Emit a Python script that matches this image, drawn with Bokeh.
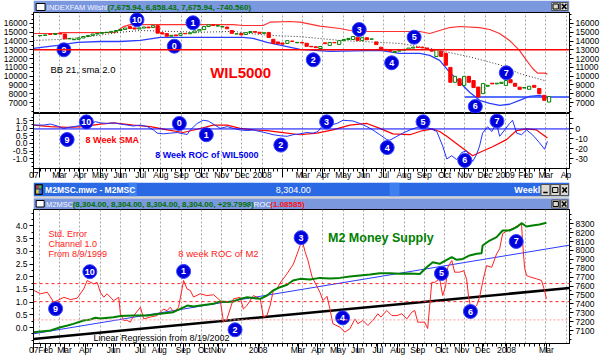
import pandas as pd
from bokeh.plotting import figure
from bokeh.models import Range1d, LinearAxis, FixedTicker, Grid, ColumnDataSource, Span, NumeralTickFormatter
from bokeh.layouts import column
from bokeh.embed import file_html
from bokeh.resources import INLINE
from bokeh.core.properties import value

FONT = "Liberation Sans"

# ---------------- data (x = months since Jan 2007) ----------------
week_first = "2007-02-02"
wk_open = [14600, 14640, 14800, 14750, 14860, 14800, 14250, 14150, 14200, 14350,
           14520, 14640, 14800, 14880, 14970, 15000, 15100, 15200, 15320, 15650,
           15500, 15370, 15480, 15600, 15550, 15750, 14950, 14850, 14550, 14700,
           14650, 14870, 14830, 14950, 15150, 15300, 15650, 15850, 15700, 15600,
           15600, 15200, 14800, 14850, 14750, 14960, 15080, 15000, 14880, 14980,
           14200, 13900, 13780, 13730, 14000, 13800, 13850, 13750, 13400, 13350,
           13150, 13800, 13500, 13840, 13620, 14050, 14180, 14180, 14440, 14070,
           14380, 14200, 13900, 13300, 13050, 12950, 12700, 12850, 12950, 13050,
           13200, 13300, 13300, 13200, 13050, 12250, 12850, 12600, 11000, 9300,
           9700, 8950, 9980, 9500, 8760, 8010, 8850, 9200, 9120, 9180,
           8950, 9600, 9180, 8750, 8650, 8500, 8950, 8600, 7820, 7050]
wk_close = [14640, 14700, 14750, 14860, 14800, 14250, 14300, 14200, 14350, 14520,
            14640, 14800, 14880, 14970, 15000, 15100, 15200, 15320, 15490, 15430,
            15370, 15500, 15600, 15500, 15750, 14900, 14800, 14550, 14650, 14600,
            14870, 14830, 14950, 15150, 15300, 15650, 15850, 15780, 15760, 15650,
            15400, 14880, 14830, 14700, 14960, 15080, 15000, 14880, 14950, 14400,
            13730, 13700, 13650, 14050, 13960, 13850, 13780, 13400, 13350, 13250,
            13380, 13700, 13840, 13800, 14050, 14180, 14300, 14520, 14070, 14380,
            14150, 14250, 13600, 13000, 12950, 12850, 12800, 12950, 13050, 13200,
            13300, 13280, 13220, 13120, 12850, 13000, 12250, 11250, 9300, 9980,
            8950, 9980, 9300, 8700, 7630, 9150, 8960, 9120, 9200, 9300,
            9500, 9250, 8850, 8500, 8700, 8850, 8730, 8000, 7250, 7676]

bb_up_m = [0.71, 1.90, 2.04, 4.75, 5.15, 5.49, 10.57, 11.06, 12.04, 12.39, 13.37, 13.87, 14.85,
           15.84, 16.33, 16.82, 19.78, 20.27, 20.76, 21.26, 21.75, 22.73, 23.23, 23.72, 24.21,
           24.70, 25.05, 25.34, 25.59, 25.94, 26.08]
bb_up_v = [14860, 14860, 14950, 14980, 15650, 15880, 15880, 15770, 15770, 16150, 16230, 16150, 15700,
           15430, 15200, 15090, 15090, 14860, 15200, 15540, 15660, 15540, 15320, 14860, 14070,
           12930, 11800, 10900, 10340, 10340, 10230]
bb_mid_m = [0.71, 2.04, 3.52, 5.0, 5.99, 7.46, 8.94, 10.57, 11.4, 12.39, 13.87, 15.84, 17.32,
            18.79, 20.27, 22.24, 23.72, 24.7, 25.94]
bb_mid_v = [14070, 14180, 14520, 15000, 15200, 15100, 15000, 15100, 14860, 14640, 14500, 14070, 13900,
            13730, 13160, 12200, 11300, 10300, 9500]
bb_low_m = [0.71, 1.90, 2.88, 4.01, 5.0, 5.99, 6.97, 11.06, 11.55, 12.24, 13.87, 15.34, 17.81,
            18.79, 19.78, 20.27, 20.76, 21.26, 21.75, 22.24, 22.73, 23.23, 23.72, 24.21, 24.70,
            25.20, 25.69, 26.03]
bb_low_v = [13160, 13500, 13840, 13950, 13950, 14070, 14410, 14410, 14300, 13840, 13050, 12820, 12930,
            12590, 12590, 12360, 11800, 10430, 9300, 8160, 7250, 6910, 6680, 6800, 7250,
            7700, 7820, 7590]
support_level = 13000
low_support_m = [22.0, 27.17]
low_support_v = [7625, 7625]

roc_m = [0.71, 1.21, 1.55, 1.90, 2.19, 2.68, 3.18, 3.52, 3.77, 4.01, 4.36, 4.66, 5.0, 5.34, 5.64,
         5.99, 6.33, 6.63, 6.82, 7.12, 7.46, 7.81, 8.1, 8.3, 8.45, 8.79, 9.09, 9.33, 9.58, 9.93,
         10.27, 10.57, 10.91, 11.26, 11.55, 11.9, 12.24, 12.54, 12.88, 13.23, 13.52, 13.87, 14.21,
         14.51, 14.75, 15.0, 15.34, 15.69, 15.99, 16.48, 16.82, 17.17, 17.46, 17.81, 18.15, 18.3,
         18.65, 18.94, 19.29, 19.63, 19.93, 20.27, 20.62, 20.91, 21.11, 21.36, 21.6, 21.85, 22.09,
         22.24, 22.39, 22.59, 22.73, 22.88, 23.13, 23.33, 23.57, 23.72, 23.97, 24.21, 24.36, 24.56,
         24.8, 25.05, 25.34, 25.69, 25.94, 26.08]
roc_v = [3.9, 3.9, 4.9, 2.9, 0.6, 2.3, 3.9, 5.5, 7.3, 6.1, 5.5, 6.1, 4.9, 3.9, 2.9,
         3.9, 2.3, -1.0, -4.2, -4.9, -4.2, -3.6, -4.9, -5.5, -1.0, 5.5, 8.7, 8.0, 4.9, 0.6,
         2.3, 0.6, -1.0, -1.6, -1.0, -2.6, -4.2, -5.8, -6.8, -7.4, -5.8, -4.9, -3.6,
         -4.2, -2.6, 3.9, 3.9, 5.5, 8.7, 8.0, 5.5, 2.3, -1.0, -5.8, -10.7, -11.3,
         -7.4, -4.2, -1.0, 1.5, 2.3, 0.6, -2.6, -17.2, -30.1, -26.9, -30.8, -23.6, -22.0,
         -26.9, -32.7, -25.2, -17.2, -4.2, 2.3, -2.6, 5.5, -7.4, -1.0, 5.5, 8.7, -4.2,
         -5.8, -1.0, -5.8, -13.9, -20.4, -12.4]
sma_m = [0.71, 1.55, 2.39, 3.18, 4.01, 4.66, 5.64, 6.48, 7.32, 8.1, 8.79, 9.58, 10.27, 10.91,
         11.55, 12.24, 13.03, 13.87, 14.7, 15.49, 16.33, 17.17, 17.81, 18.45, 19.29, 19.93,
         20.42, 20.76, 21.11, 21.75, 22.39, 22.73, 23.37, 24.06, 24.56, 25.05, 25.54, 26.08]
sma_v = [3.9, 2.3, 1.6, 2.3, 4.9, 6.1, 3.9, 2.3, -1.0, -3.6, -0.3, 3.9, 3.9, 0.6,
         -1.0, -1.6, -3.6, -5.8, -4.2, -1.0, 3.9, 5.5, 0.6, -4.9, -5.8, -1.6,
         0.0, -2.6, -7.4, -17.2, -26.9, -23.6, -17.8, -10.7, -1.6, 0.0, -1.0, -9.0]

m2roc_m = [0.73, 1.06, 1.39, 1.71, 1.88, 2.21, 2.54, 2.87, 3.19, 3.36, 3.68, 3.85, 4.01, 4.18,
           4.34, 4.67, 4.92, 5.00, 5.16, 5.33, 5.49, 5.66, 5.99, 6.15, 6.48, 6.81, 7.13, 7.30,
           7.46, 7.63, 7.87, 8.12, 8.29, 8.45, 8.61, 8.94, 9.27, 9.60, 9.93, 10.09, 10.26, 10.58,
           10.91, 11.07, 11.24, 11.57, 11.90, 12.06, 12.23, 12.39, 12.55, 12.72, 12.88, 13.04,
           13.21, 13.54, 13.77, 13.97, 14.11, 14.26, 14.46, 14.85, 15.00, 15.20, 15.34, 15.49,
           15.84, 16.08, 16.33, 16.58, 16.72, 16.97, 17.22, 17.46, 17.71, 17.86, 18.15, 18.40,
           18.65, 18.89, 19.14, 19.38, 19.53, 19.68, 19.88, 20.02, 20.17, 20.37, 20.52, 20.76,
           20.91, 21.06, 21.16, 21.36, 21.50, 21.75, 21.95, 22.09, 22.19, 22.29, 22.39, 22.59,
           22.73, 22.88, 22.98, 23.08, 23.33, 23.57, 23.72, 23.87, 24.11, 24.36, 24.61, 24.80,
           24.85, 24.95, 25.05, 25.20, 25.54, 25.79, 25.94, 26.03]
m2roc_v = [1.46, 1.33, 1.39, 1.00, 1.06, 1.19, 1.10, 1.16, 1.52, 1.85, 1.72, 1.78, 1.39, 1.19,
           1.33, 1.06, 1.19, 0.54, 0.28, 0.28, 0.21, 0.47, 0.80, 0.34, 0.41, 0.47, 0.73, 0.66,
           0.80, 0.60, 0.80, 1.85, 1.52, 1.46, 1.20, 1.33, 1.26, 1.29, 1.06, 0.21, 0.34, 1.13,
           1.19, 0.73, 0.86, 1.26, 1.13, 0.41, 0.47, 0.86, 1.46, 1.52, 1.75, 1.92,
           2.10, 2.50, 3.00, 3.45, 3.00, 2.64, 2.00, 1.39, 1.06, 1.23, 0.74, 0.15,
           0.01, -0.18, -0.05, 0.34, 0.15, 0.28, 0.08, 0.28, 0.54, 0.41, 0.67, 0.47,
           0.47, 0.54, 0.34, 0.60, 0.67, 0.21, 0.21, 0.21, -0.04, 1.78, 1.78, 1.92,
           1.26, 1.65, 2.37, 2.64, 2.18, 2.18, 2.24, 1.90, 1.20, 0.80, 0.74, 0.87,
           1.19, 1.78, 2.13, 2.44, 2.37, 2.90, 3.10, 3.70, 3.82, 3.89, 4.02, 4.10,
           3.43, 2.37, 2.05, 2.00, 1.92, 1.85, 1.46, 1.13]
m2_m = [0.71, 1.55, 2.04, 2.39, 2.68, 3.18, 3.52, 3.77, 4.01, 4.66, 5.0, 5.64, 6.33, 6.97, 7.61,
        7.96, 8.30, 8.60, 8.94, 9.58, 9.93, 10.27, 10.57, 10.91, 11.26, 11.55, 11.90, 12.24,
        12.54, 12.88, 13.23, 13.52, 13.87, 14.36, 14.85, 15.34, 15.84, 16.33, 16.82, 17.32,
        17.81, 18.30, 18.79, 19.29, 19.78, 20.12, 20.42, 20.76, 21.11, 21.36, 21.60, 21.90,
        22.24, 22.59, 22.83, 22.88, 23.23, 23.57, 23.87, 24.21, 24.56, 24.80, 25.05, 25.34,
        25.69, 26.03]
m2_v = [7081, 7100, 7137, 7156, 7175, 7212, 7224, 7243, 7235, 7250, 7262, 7269, 7270, 7288, 7306,
        7344, 7381, 7370, 7381, 7400, 7426, 7420, 7426, 7456, 7475, 7465, 7456, 7494,
        7550, 7587, 7614, 7662, 7681, 7675, 7692, 7686, 7692, 7707, 7719, 7730,
        7745, 7745, 7738, 7740, 7735, 7812, 7868, 7850, 7895, 7925, 7895, 7905,
        7944, 7963, 7970, 8056, 8112, 8150, 8225, 8225, 8262, 8307, 8270, 8281,
        8292, 8311]
m2_reg_m = [0.71, 27.17]
m2_reg_v = [7063, 8060]
lr_2002_m = [0.71, 27.17]
lr_2002_v = [7004, 7578]
channel_levels = [1.73, 1.02, 0.30]

top_marks_m = [5.82, 8.58, 2.21, 7.66, 14.52, 16.79, 18.39, 19.5, 22.52, 24.05]
top_marks_v = [16420, 16080, 13004, 13414, 11865, 15316, 11523, 14439, 6545, 10384]
roc_marks_m = [3.32, 7.91, 2.37, 9.24, 12.92, 15.18, 18.17, 19.94, 22.0, 23.59]
roc_marks_v = [7.1, 5.5, -10.6, -5.8, -16.2, 7.1, -18.7, 7.1, -31.6, 8.0]
mark_labels = ["10", "1", "9", "0", "2", "3", "4", "5", "6", "7"]
roc_mark_labels = ["10", "0", "9", "1", "2", "3", "4", "5", "6", "7"]
bot_marks_m = [3.49, 8.12, 13.92, 1.8, 10.66, 15.97, 20.85, 22.28, 24.54]
bot_marks_v = [2.2, 2.21, 3.54, 0.74, -0.09, 0.38, 2.13, 0.63, 3.39]
bot_mark_labels = ["10", "1", "3", "9", "2", "4", "5", "6", "7"]

month_grid = list(range(1, 28))
top_tick_m = [0.72] + list(range(1, 28))
top_tick_lbl = ["07", "", "Mar", "Apr", "May", "Jun", "Jul", "Aug", "Sep", "Oct", "Nov", "Dec", "2008",
                "", "Mar", "Apr", "May", "Jun", "Jul", "Aug", "Sep", "Oct", "Nov", "Dec", "2009",
                "Feb", "Mar", "Ap"]
bot_tick_m = [0.72, 1.31, 2.24, 3.28, 4.66, 5.99, 6.92, 8.10, 9.14, 9.83, 11.80, 13.77, 14.75,
              15.74, 16.72, 17.71, 18.69, 19.68, 20.86, 21.85, 22.88, 24.06, 26.03]
bot_tick_lbl = ["07", "Feb", "Mar", "Apr", "Jun", "Jul", "Aug", "Sep", "Oct", "Nov", "2008", "Mar",
                "Apr", "May", "Jun", "Jul", "Aug", "Sep", "Oct", "Nov", "Dec", "2008", "Mar"]

price_ticks = list(range(7000, 17000, 1000))
roc_left_ticks = [-1.0, -0.5, 0.0, 0.5, 1.0, 1.5]
roc_right_ticks = [-30, -20, -10, 0, 10]
m2roc_ticks = [0.0, 0.5, 1.0, 1.5, 2.0, 2.5, 3.0, 3.5, 4.0]
m2_ticks = list(range(7100, 8400, 100))

# ---------------- helpers ----------------
dates = pd.date_range(week_first, periods=len(wk_open), freq="7D")
week_m = [(d.year - 2007) * 12 + (d.month - 1) + (d.day - 1) / d.days_in_month for d in dates]
xr = Range1d(0.71, 27.17)


def pane(h, yr, bottom=0):
    p = figure(width=602, height=h, x_range=xr, y_range=yr, output_backend="svg",
               toolbar_location=None, x_axis_location=None, y_axis_location=None,
               min_border_left=33, min_border_right=32, min_border_top=0, min_border_bottom=bottom,
               background_fill_color="white", border_fill_color="white",
               outline_line_color="black", outline_line_width=1)
    p.xgrid.visible = False
    p.ygrid.visible = False
    p.add_layout(Grid(dimension=0, ticker=FixedTicker(ticks=month_grid),
                      grid_line_color="#a8a8a8", grid_line_dash="2 2"))
    return p


def yaxis(p, side, ticks, minor, fmt, range_name="default", overrides=None):
    ax = LinearAxis(y_range_name=range_name, ticker=FixedTicker(ticks=ticks, minor_ticks=minor),
                    formatter=NumeralTickFormatter(format=fmt))
    ax.major_tick_out = 4
    ax.major_tick_in = 0
    ax.minor_tick_out = 2
    ax.minor_tick_in = 0
    ax.major_label_standoff = 2
    ax.axis_line_color = "black"
    ax.major_tick_line_color = "black"
    ax.minor_tick_line_color = "black"
    ax.major_label_text_font = FONT
    ax.major_label_text_font_size = "8.5px"
    ax.major_label_text_color = "black"
    if overrides:
        ax.major_label_overrides = overrides
    p.add_layout(ax, side)


def xaxis(p, ticks, labels):
    ax = LinearAxis(ticker=FixedTicker(ticks=ticks, minor_ticks=week_m))
    ax.major_label_overrides = dict(zip(ticks, labels))
    ax.major_tick_out = 9
    ax.major_tick_in = 0
    ax.minor_tick_out = 3
    ax.minor_tick_in = 0
    ax.major_label_standoff = -8
    ax.major_label_text_align = "left"
    ax.axis_line_color = "black"
    ax.major_label_text_font = FONT
    ax.major_label_text_font_size = "8.5px"
    ax.major_label_text_color = "black"
    p.add_layout(ax, "below")


def marks(p, xs, ys, labels, range_name="default"):
    p.scatter(xs, ys, marker="circle", size=14, fill_color="#0000dd", line_color="#3344ff",
              y_range_name=range_name)
    p.text(xs, ys, text=labels, text_color="white", text_font=value(FONT), text_font_style="bold",
           text_font_size="9px", text_align="center", text_baseline="middle", y_range_name=range_name)


def note(p, x, y, txt, color, size, bold=False, baseline="middle"):
    p.text([x], [y], text=[txt], text_color=color, text_font=value(FONT),
           text_font_style="bold" if bold else "normal", text_font_size=size,
           text_align="left", text_baseline=baseline)


def chrome(h):
    p = figure(width=602, height=h, x_range=Range1d(0, 602), y_range=Range1d(h, 0),
               output_backend="svg", toolbar_location=None, x_axis_location=None,
               y_axis_location=None, min_border_left=0, min_border_right=0, min_border_top=0,
               min_border_bottom=0, outline_line_color=None, background_fill_color="white",
               border_fill_color="white")
    p.xgrid.visible = False
    p.ygrid.visible = False
    return p


def ctext(p, x, y, txt, color, size, bold=False):
    p.text([x], [y], text=[txt], text_color=color, text_font=value(FONT),
           text_font_style="bold" if bold else "normal", text_font_size=size,
           text_align="left", text_baseline="middle")


def buttons(p, xs, y0, y1, kinds):
    for (a, b), k in zip(xs, kinds):
        p.quad(left=[a], right=[b], top=[y0], bottom=[y1], fill_color="#dcd8d0", line_color="#505050")
        cx = (a + b) / 2
        cy = (y0 + y1) / 2
        if k == "x":
            p.segment([cx - 2.5, cx - 2.5], [cy - 2.5, cy + 2.5], [cx + 2.5, cx + 2.5], [cy + 2.5, cy - 2.5],
                      line_color="black", line_width=1.6)
        elif k == "max":
            p.quad(left=[cx - 3], right=[cx + 3], top=[cy - 2.5], bottom=[cy + 2.5],
                   fill_color=None, line_color="black", line_width=1)
        else:
            p.segment([cx - 2.5], [cy + 2.5], [cx + 2.5], [cy + 2.5], line_color="black", line_width=1.6)


# ---------------- title bar 1 ----------------
t1 = chrome(12)
t1.quad(left=[0], right=[602], top=[0], bottom=[12], fill_color="#7b98df", line_color=None)
t1.quad(left=[3], right=[13], top=[3], bottom=[10], fill_color="white", line_color="black")
ctext(t1, 15, 6.5, "INDEXFAM Wilshi", "#f4f6ff", "7.5px")
ctext(t1, 83, 6.5, "(7,675.94, 6,858.43, 7,675.94, -740.560)", "#007000", "8px", bold=True)
buttons(t1, [(582, 591), (592, 600)], 2, 10, ["max", "x"])

# ---------------- price pane ----------------
p1 = pane(101, Range1d(5747, 17253))
yaxis(p1, "left", price_ticks, list(range(6000, 17500, 500)), "0")
yaxis(p1, "right", price_ticks, list(range(6000, 17500, 500)), "0")
p1.add_layout(Span(location=support_level, dimension="width", line_color="#ff0000", line_width=1.5))
p1.line(low_support_m, low_support_v, line_color="#2040ff", line_width=1.3)
p1.line(bb_up_m, bb_up_v, line_color="#ff3030", line_width=1.2)
p1.line(bb_low_m, bb_low_v, line_color="#2a3cff", line_width=1.3)
p1.line(bb_mid_m, bb_mid_v, line_color="#303030", line_width=1, line_dash="1 2")
up = [i for i in range(len(wk_open)) if wk_close[i] >= wk_open[i]]
dn = [i for i in range(len(wk_open)) if wk_close[i] < wk_open[i]]
p1.vbar(x=[week_m[i] for i in up], width=0.16, top=[wk_close[i] for i in up],
        bottom=[wk_open[i] for i in up], fill_color="white", line_color="#008000")
p1.vbar(x=[week_m[i] for i in dn], width=0.16, top=[wk_open[i] for i in dn],
        bottom=[wk_close[i] for i in dn], fill_color="#ff0000", line_color="#ff0000")
marks(p1, top_marks_m, top_marks_v, mark_labels)
note(p1, 1.55, 10760, "BB 21, sma 2.0", "black", "9.5px")
note(p1, 9.43, 10418, "WIL5000", "#ff0000", "15px", bold=True)

# ---------------- ROC pane ----------------
p2 = pane(69, Range1d(-39.7, 15.5), bottom=12)
p2.extra_y_ranges = {"left": Range1d(-1.66, 1.99)}
yaxis(p2, "left", roc_left_ticks, [-1.5, -1.25, -0.75, -0.25, 0.25, 0.75, 1.25, 1.75], "0.0",
      range_name="left")
yaxis(p2, "right", roc_right_ticks, [-35, -25, -15, -5, 5], "0", overrides={10: ""})
xaxis(p2, top_tick_m, top_tick_lbl)
p2.add_layout(Span(location=0, dimension="width", line_color="#0000ff", line_width=1))
p2.line(sma_m, sma_v, line_color="#ff0000", line_width=1.2)
p2.line(roc_m, roc_v, line_color="#2233ff", line_width=1)
marks(p2, roc_marks_m, roc_marks_v, roc_mark_labels)
note(p2, 3.28, -11.1, "8 Week SMA", "#ff0000", "9px", bold=True)
note(p2, 6.72, -26.6, "8 Week ROC of WIL5000", "#0000ee", "9px", bold=True)

# ---------------- window bars ----------------
t2 = chrome(27)
t2.quad(left=[0], right=[602], top=[0], bottom=[14], fill_color="#2b68e4", line_color=None)
t2.quad(left=[107, 400], right=[116, 411], top=[0, 0], bottom=[14, 14], fill_color="#3f80f0", line_color=None)
t2.quad(left=[2], right=[10], top=[2], bottom=[12], fill_color="#203070", line_color="#101010")
t2.quad(left=[3, 6, 3, 6], right=[6, 9, 6, 9], top=[3, 3, 7, 7], bottom=[6, 6, 11, 11],
        fill_color=["#e03050", "#30c050", "#f0d020", "#3070f0"], line_color=None)
ctext(t2, 13, 7.5, "M2MSC.mwc - M2MSC", "white", "8.5px", bold=True)
ctext(t2, 272, 7.5, "8,304.00", "white", "9px")
ctext(t2, 540, 7.5, "Weekly", "white", "9px", bold=True)
buttons(t2, [(570, 580), (581, 591), (592, 601)], 2, 13, ["min", "max", "x"])
t2.quad(left=[0], right=[602], top=[14], bottom=[16], fill_color="#d8d4cc", line_color=None)
t2.quad(left=[0], right=[602], top=[16], bottom=[26.5], fill_color="#7b98df", line_color=None)
t2.quad(left=[3], right=[12], top=[18], bottom=[24.5], fill_color="white", line_color="black")
ctext(t2, 14, 21.5, "M2MSC", "#f4f6ff", "7.5px")
ctext(t2, 44, 21.5, "(8,304.00, 8,304.00, 8,304.00, 8,304.00, +29.7998)", "#007000", "8px", bold=True)
ctext(t2, 242, 21.5, ", ROC", "#f4f6ff", "8px")
ctext(t2, 266, 21.5, "(1.08585)", "#ff1010", "8px", bold=True)
buttons(t2, [(582, 591), (592, 600)], 17.5, 25.5, ["max", "x"])

# ---------------- M2 pane ----------------
p3 = pane(149, Range1d(-0.63, 4.65), bottom=15)
p3.extra_y_ranges = {"m2": Range1d(6954, 8461)}
yaxis(p3, "left", m2roc_ticks, [x / 4 for x in range(-2, 19)], "0.0")
yaxis(p3, "right", m2_ticks, list(range(7000, 8450, 50)), "0", range_name="m2")
xaxis(p3, bot_tick_m, bot_tick_lbl)
for lvl, col, dash in zip(channel_levels, ["#ff2020", "#ff2020", "#ff9a9a"], ["3 3", "3 3", "2 2"]):
    p3.add_layout(Span(location=lvl, dimension="width", line_color=col, line_dash=dash, line_width=1))
p3.line(lr_2002_m, lr_2002_v, y_range_name="m2", line_color="black", line_width=2.5)
p3.line(m2_reg_m, m2_reg_v, y_range_name="m2", line_color="#2a3cff", line_width=1)
p3.line(m2roc_m, m2roc_v, line_color="#ff2020", line_width=1)
p3.line(m2_m, m2_v, y_range_name="m2", line_color="#008000", line_width=2)
marks(p3, bot_marks_m, bot_marks_v, bot_mark_labels)
note(p3, 1.45, 3.67, "Std. Error", "#ff2020", "9px")
note(p3, 1.45, 3.29, "Channel 1.0", "#ff2020", "9px")
note(p3, 1.45, 2.90, "From 8/9/1999", "#ff2020", "9px")
note(p3, 7.86, 2.90, "8 week ROC of M2", "#ff2020", "9.5px")
note(p3, 15.25, 3.53, "M2 Money Supply", "#008000", "12.5px", bold=True)
note(p3, 3.67, -0.60, "Linear Regression from 8/19/2002", "black", "9px", baseline="bottom")

layout = column(t1, p1, p2, t2, p3, spacing=0)
open("out.html", "w").write(file_html(layout, INLINE))
